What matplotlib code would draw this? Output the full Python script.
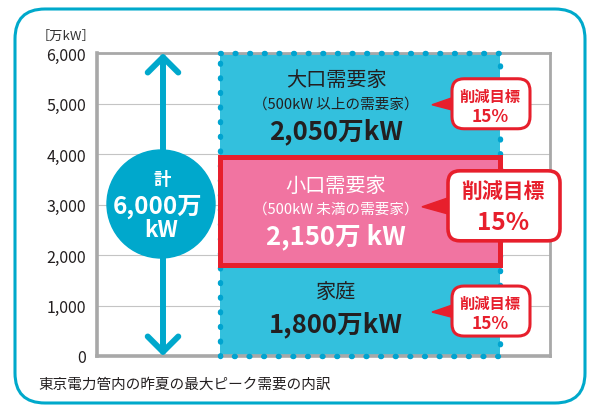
import matplotlib
matplotlib.use('Agg')
import matplotlib.pyplot as plt
from matplotlib.patches import FancyBboxPatch, Circle, Polygon
from matplotlib.ticker import FixedLocator, FuncFormatter

plt.rcParams['font.family'] = ['Noto Sans CJK JP', 'DejaVu Sans']

# ---------------- data ----------------
segments = ['家庭', '小口需要家', '大口需要家']
subtitles = ['', '（500kW 未満の需要家）', '（500kW 以上の需要家）']
values = [1800, 2150, 2050]
value_labels = ['1,800万kW', '2,150万 kW', '2,050万kW']
targets = ['15%', '15%', '15%']
target_title = '削減目標'
total_lines = ['計', '6,000万', 'kW']
yticks = [0, 1000, 2000, 3000, 4000, 5000, 6000]
unit_label = '［万kW］'
caption = '東京電力管内の昨夏の最大ピーク需要の内訳'

# ---------------- style ----------------
BLUE = '#33C0DD'
DARKBLUE = '#00A8CC'
DOT = '#00A4D0'
PINK = '#F174A1'
RED = '#E71F2C'
GRAY = '#A8A8A8'
GRID = '#C4C4C4'
TXT = '#231F20'

W, H = 593, 406
fig = plt.figure(figsize=(W / 100, H / 100), dpi=100)
fig.patch.set_facecolor('white')

L, R, T, B = 97, 550, 54, 357
ax = fig.add_axes([L / W, 1 - B / H, (R - L) / W, (B - T) / H])
ax.set_xlim(0, R - L)
ax.set_ylim(0, 6000)
ax.set_facecolor('white')

total = sum(values)
bottoms = [sum(values[:i]) for i in range(len(values))]
bar_x, bar_w = 123, 280

# stacked segments
for i, (v, b) in enumerate(zip(values, bottoms)):
    if i == 1:
        ax.bar(bar_x, v, bar_w, bottom=b, align='edge', color=PINK,
               edgecolor=RED, linewidth=3.6, zorder=3.2, clip_on=False)
    else:
        ax.bar(bar_x, v, bar_w, bottom=b, align='edge', color=BLUE,
               linewidth=0, zorder=2)
# dotted outline of total
outline = ax.bar(bar_x, total, bar_w, bottom=0, align='edge', fill=False,
                 linewidth=0, zorder=2)[0]
ox0, oy0 = outline.get_x(), outline.get_y()
ox1, oy1 = ox0 + outline.get_width(), oy0 + outline.get_height()
ax.plot([ox0, ox1, ox1, ox0, ox0], [oy1, oy1, oy0, oy0, oy1],
        color=DOT, lw=3.9, linestyle=(0, (0.15, 2.55)),
        dash_capstyle='round', zorder=3, clip_on=False)

# grid & spines
ax.yaxis.set_major_locator(FixedLocator(yticks))
ax.yaxis.set_major_formatter(FuncFormatter(lambda v, p: f'{int(v):,}'))
ax.set_xticks([])
ax.tick_params(axis='y', length=0, pad=8, labelsize=11.5, labelcolor=TXT)
for yv in yticks[1:-1]:
    ax.axhline(yv, color=GRID, lw=0.8, zorder=1)
for side in ['left', 'bottom']:
    ax.spines[side].set_color(GRAY)
    ax.spines[side].set_linewidth(2.6)
for side in ['top', 'right']:
    ax.spines[side].set_color(GRAY)
    ax.spines[side].set_linewidth(2.0)

# total arrow
arrow_x = 66
ax.annotate('', xy=(arrow_x, total), xytext=(arrow_x, 0),
            arrowprops=dict(arrowstyle='<->,head_length=0.55,head_width=0.55',
                            mutation_scale=20, lw=4.3, color=DARKBLUE,
                            shrinkA=0, shrinkB=0, capstyle='round',
                            joinstyle='round'),
            annotation_clip=False, zorder=4)

# segment labels
text_x = 239
label_specs = [
    # (title offset, sub offset, value offset) in points
    (14.0, None, -9.7),
    (18.6, 1.3, -18.1),
    (17.9, 0.6, -18.9),
]
for i in range(len(values)):
    mid = bottoms[i] + values[i] / 2
    col = 'white' if i == 1 else TXT
    t_off, s_off, v_off = label_specs[i]
    ax.annotate(segments[i], (text_x, mid), xytext=(0, t_off),
                textcoords='offset points', ha='center', va='center',
                fontsize=14.5, color=col, zorder=5)
    if subtitles[i]:
        ax.annotate(subtitles[i], (text_x, mid), xytext=(0, s_off),
                    textcoords='offset points', ha='center', va='center',
                    fontsize=10.5, color=col, zorder=5)
    ax.annotate(value_labels[i], (text_x, mid), xytext=(0, v_off),
                textcoords='offset points', ha='center', va='center',
                fontsize=18.5, fontweight='bold', color=col, zorder=5)

# ---------------- overlay (pixel coords) ----------------
ov = fig.add_axes([0, 0, 1, 1], zorder=10)
ov.set_xlim(0, W)
ov.set_ylim(H, 0)
ov.axis('off')
ov.patch.set_alpha(0)

# outer frame
ov.add_patch(FancyBboxPatch((15, 10), 570, 394,
                            boxstyle='round,pad=0,rounding_size=30',
                            fill=False, edgecolor='#00A9CB', lw=2.2,
                            clip_on=False))

# circle with total
cx, cy, cr = 161, 205, 54
ov.add_patch(Circle((cx, cy), cr, color=DARKBLUE, zorder=3))
ov.text(cx + 1, 180, total_lines[0], ha='center', va='center', fontsize=12.5,
        fontweight='bold', color='white', zorder=4)
ov.text(cx - 4, 207, total_lines[1], ha='center', va='center', fontsize=17.5,
        fontweight='bold', color='white', zorder=4)
ov.text(cx, 231, total_lines[2], ha='center', va='center', fontsize=16,
        fontweight='bold', color='white', zorder=4)

# callouts
def seg_mid_px(i):
    mid = bottoms[i] + values[i] / 2
    disp = ax.transData.transform((0, mid))
    return H - disp[1]

callout_specs = [
    # left, width, height, center offset, tip x, half base, title fs, pct fs, lw, title dy, pct dy
    (452, 78, 50, 0.5, 432, 7, 11, 12.5, 2.2, -8, 12),
    (448, 112, 70, -5, 422, 9, 15, 17.5, 2.6, -15, 16),
    (452, 78, 50, -1, 432, 7, 11, 12.5, 2.2, -8, 12),
]
for i, spec in enumerate(callout_specs):
    left, w, h, coff, tipx, hb, tfs, pfs, lw, tdy, pdy = spec
    yc = seg_mid_px(i) + coff
    ov.add_patch(Polygon([(tipx, yc + 1), (left + 3, yc - hb), (left + 3, yc + hb)],
                         closed=True, color=RED, zorder=5))
    ov.add_patch(FancyBboxPatch((left, yc - h / 2), w, h,
                                boxstyle='round,pad=0,rounding_size=12',
                                facecolor='white', edgecolor=RED, lw=lw,
                                zorder=6))
    xc = left + w / 2 - 1
    ov.text(xc, yc + tdy, target_title, ha='center', va='center',
            fontsize=tfs, fontweight='bold', color=RED, zorder=7)
    ov.text(xc, yc + pdy, targets[i], ha='center', va='center',
            fontsize=pfs, fontweight='bold', color=RED, zorder=7)

# unit label and caption
ov.text(66, 36, unit_label, ha='center', va='center', fontsize=9.5, color='#333333')
ov.text(38, 385, caption, ha='left', va='center', fontsize=10.5, color=TXT)

fig.savefig('out.png', dpi=100)
